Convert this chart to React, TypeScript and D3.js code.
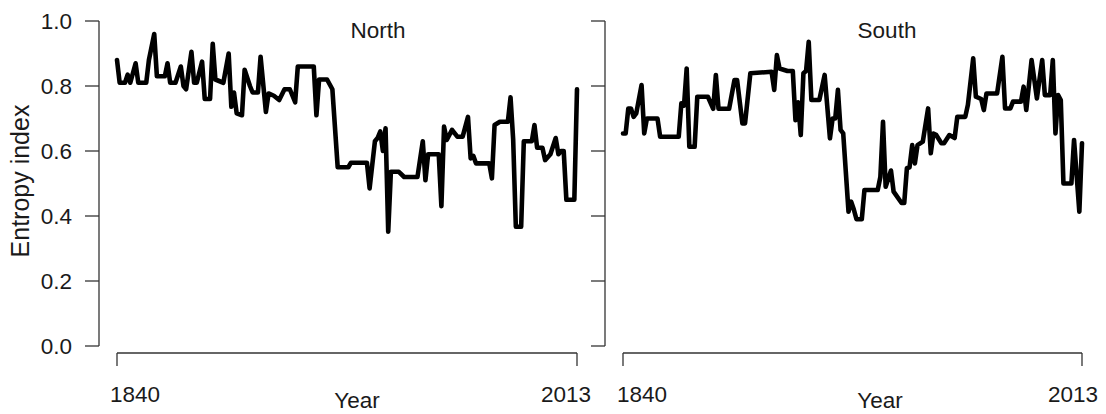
import React from "react";
import * as d3 from "d3";

// ---- data ----
const north: [number, number][] = [
  [1840, 0.88], [1841, 0.81], [1843, 0.81], [1844, 0.835], [1845, 0.81], [1847, 0.87], [1848, 0.81],
  [1851, 0.81], [1852, 0.88], [1854, 0.96], [1855, 0.83], [1858, 0.83], [1859, 0.87], [1860, 0.81],
  [1862, 0.81], [1864, 0.86], [1865, 0.8], [1866, 0.79], [1868, 0.905], [1869, 0.81], [1870, 0.81],
  [1872, 0.875], [1873, 0.76], [1875, 0.76], [1876, 0.93], [1877, 0.82], [1880, 0.81], [1882, 0.9],
  [1883, 0.736], [1884, 0.78], [1885, 0.716], [1887, 0.71], [1888, 0.85], [1890, 0.8], [1891, 0.78],
  [1893, 0.78], [1894, 0.89], [1896, 0.72], [1897, 0.777], [1899, 0.77], [1901, 0.757], [1903, 0.79],
  [1905, 0.79], [1907, 0.75], [1908, 0.86], [1914, 0.86], [1915, 0.71], [1916, 0.82], [1919, 0.82],
  [1921, 0.79], [1923, 0.55], [1927, 0.55], [1928, 0.564], [1934, 0.564], [1935, 0.485], [1937, 0.63],
  [1938, 0.64], [1939, 0.66], [1940, 0.6], [1941, 0.67], [1942, 0.352], [1943, 0.536], [1946, 0.536],
  [1948, 0.52], [1953, 0.52], [1955, 0.63], [1956, 0.51], [1957, 0.59], [1961, 0.59], [1962, 0.43],
  [1963, 0.675], [1964, 0.634], [1966, 0.665], [1968, 0.644], [1970, 0.644], [1972, 0.705], [1973, 0.577],
  [1974, 0.585], [1975, 0.562], [1980, 0.562], [1981, 0.516], [1982, 0.68], [1984, 0.69], [1987, 0.69],
  [1988, 0.765], [1989, 0.634], [1990, 0.367], [1992, 0.367], [1993, 0.63], [1996, 0.63], [1997, 0.68],
  [1998, 0.61], [2000, 0.61], [2001, 0.572], [2003, 0.59], [2005, 0.64], [2006, 0.59], [2007, 0.6],
  [2008, 0.6], [2009, 0.45], [2012, 0.45], [2013, 0.79],
];

const south: [number, number][] = [
  [1840, 0.654], [1841, 0.654], [1842, 0.731], [1843, 0.731], [1844, 0.705], [1845, 0.716], [1847, 0.803],
  [1848, 0.654], [1849, 0.7], [1853, 0.7], [1854, 0.644], [1861, 0.644], [1862, 0.747], [1863, 0.74],
  [1864, 0.854], [1865, 0.613], [1867, 0.613], [1868, 0.767], [1872, 0.767], [1874, 0.73], [1875, 0.834],
  [1876, 0.73], [1880, 0.73], [1882, 0.818], [1883, 0.818], [1885, 0.685], [1886, 0.685], [1888, 0.839],
  [1896, 0.844], [1897, 0.788], [1898, 0.895], [1899, 0.854], [1902, 0.846], [1904, 0.846], [1905, 0.695],
  [1906, 0.75], [1907, 0.649], [1908, 0.839], [1909, 0.846], [1910, 0.936], [1911, 0.757], [1914, 0.757],
  [1916, 0.834], [1918, 0.639], [1919, 0.7], [1920, 0.7], [1921, 0.788], [1922, 0.665], [1923, 0.654],
  [1925, 0.413], [1926, 0.444], [1927, 0.42], [1928, 0.39], [1930, 0.39], [1931, 0.48], [1936, 0.48],
  [1937, 0.52], [1938, 0.69], [1939, 0.49], [1941, 0.54], [1942, 0.475], [1945, 0.44], [1946, 0.44],
  [1947, 0.547], [1948, 0.55], [1949, 0.618], [1950, 0.562], [1951, 0.618], [1953, 0.629], [1955, 0.731],
  [1956, 0.593], [1957, 0.654], [1958, 0.65], [1960, 0.624], [1961, 0.624], [1963, 0.649], [1965, 0.64],
  [1966, 0.705], [1969, 0.705], [1970, 0.742], [1972, 0.885], [1973, 0.767], [1975, 0.76], [1976, 0.726],
  [1977, 0.777], [1981, 0.777], [1983, 0.89], [1984, 0.731], [1986, 0.731], [1987, 0.752], [1990, 0.752],
  [1991, 0.798], [1992, 0.726], [1994, 0.88], [1996, 0.762], [1998, 0.88], [1999, 0.772], [2001, 0.772],
  [2002, 0.88], [2003, 0.654], [2004, 0.772], [2005, 0.757], [2006, 0.5], [2009, 0.5], [2010, 0.634],
  [2012, 0.413], [2013, 0.624],
];

const panelTitles = ["North", "South"];
const yTickValues = [0, 0.2, 0.4, 0.6, 0.8, 1.0];
const xTickYears = [1840, 2013];
const yAxisTitle = "Entropy index";
const xAxisTitle = "Year";

const FONT = "'Liberation Sans', Arial, Helvetica, sans-serif";
const TEXT = "#1a1a1a";
const AXIS = "#333";

export default function App() {
  const W = 1106;
  const H = 414;
  const y = d3.scaleLinear().domain([0, 1]).range([346, 21]);

  const panels = [
    {
      title: panelTitles[0],
      data: north,
      x: d3.scaleLinear().domain([1840, 2013]).range([117, 577]),
      axisX: 99,
      titleX: 378,
      labelCenters: [135, 566],
      yearX: 357,
      yLabels: true,
    },
    {
      title: panelTitles[1],
      data: south,
      x: d3.scaleLinear().domain([1840, 2013]).range([623, 1082]),
      axisX: 605,
      titleX: 887,
      labelCenters: [642, 1073],
      yearX: 880,
      yLabels: false,
    },
  ];

  const fs = 22.5;
  const xAxisY = 353;

  return (
    <svg
      width={W}
      height={H}
      viewBox={`0 0 ${W} ${H}`}
      style={{ position: "absolute", left: 0, top: 0, background: "#fff" }}
      fontFamily={FONT}
    >
      <rect width={W} height={H} fill="#fff" />
      {panels.map((p, i) => {
        const line = d3
          .line<[number, number]>()
          .x((d) => p.x(d[0]))
          .y((d) => y(d[1]));
        return (
          <g key={i}>
            <line x1={p.axisX} x2={p.axisX} y1={y(0)} y2={y(1)} stroke={AXIS} strokeWidth={1.3} />
            {yTickValues.map((t) => (
              <line key={t} x1={p.axisX - 14} x2={p.axisX} y1={y(t)} y2={y(t)} stroke={AXIS} strokeWidth={1.3} />
            ))}
            {p.yLabels &&
              yTickValues.map((t) => (
                <text
                  key={"l" + t}
                  x={72}
                  y={y(t)}
                  dy="0.36em"
                  textAnchor="end"
                  fontSize={fs}
                  fill={TEXT}
                >
                  {t.toFixed(1)}
                </text>
              ))}
            <line
              x1={p.x(xTickYears[0])}
              x2={p.x(xTickYears[1])}
              y1={xAxisY}
              y2={xAxisY}
              stroke={AXIS}
              strokeWidth={1.3}
            />
            {xTickYears.map((yr, j) => (
              <g key={yr}>
                <line x1={p.x(yr)} x2={p.x(yr)} y1={xAxisY} y2={xAxisY + 13} stroke={AXIS} strokeWidth={1.3} />
                <text x={p.labelCenters[j]} y={402} textAnchor="middle" fontSize={fs} fill={TEXT}>
                  {yr}
                </text>
              </g>
            ))}
            <text x={p.yearX} y={408} textAnchor="middle" fontSize={fs} fill={TEXT}>
              {xAxisTitle}
            </text>
            <text x={p.titleX} y={38} textAnchor="middle" fontSize={fs} fill={TEXT}>
              {p.title}
            </text>
            <path
              d={line(p.data) || ""}
              fill="none"
              stroke="#000"
              strokeWidth={4.6}
              strokeLinejoin="round"
              strokeLinecap="round"
            />
          </g>
        );
      })}
      <text
        transform={`translate(29,${181}) rotate(-90)`}
        textAnchor="middle"
        fontSize={25}
        fill={TEXT}
      >
        {yAxisTitle}
      </text>
    </svg>
  );
}
